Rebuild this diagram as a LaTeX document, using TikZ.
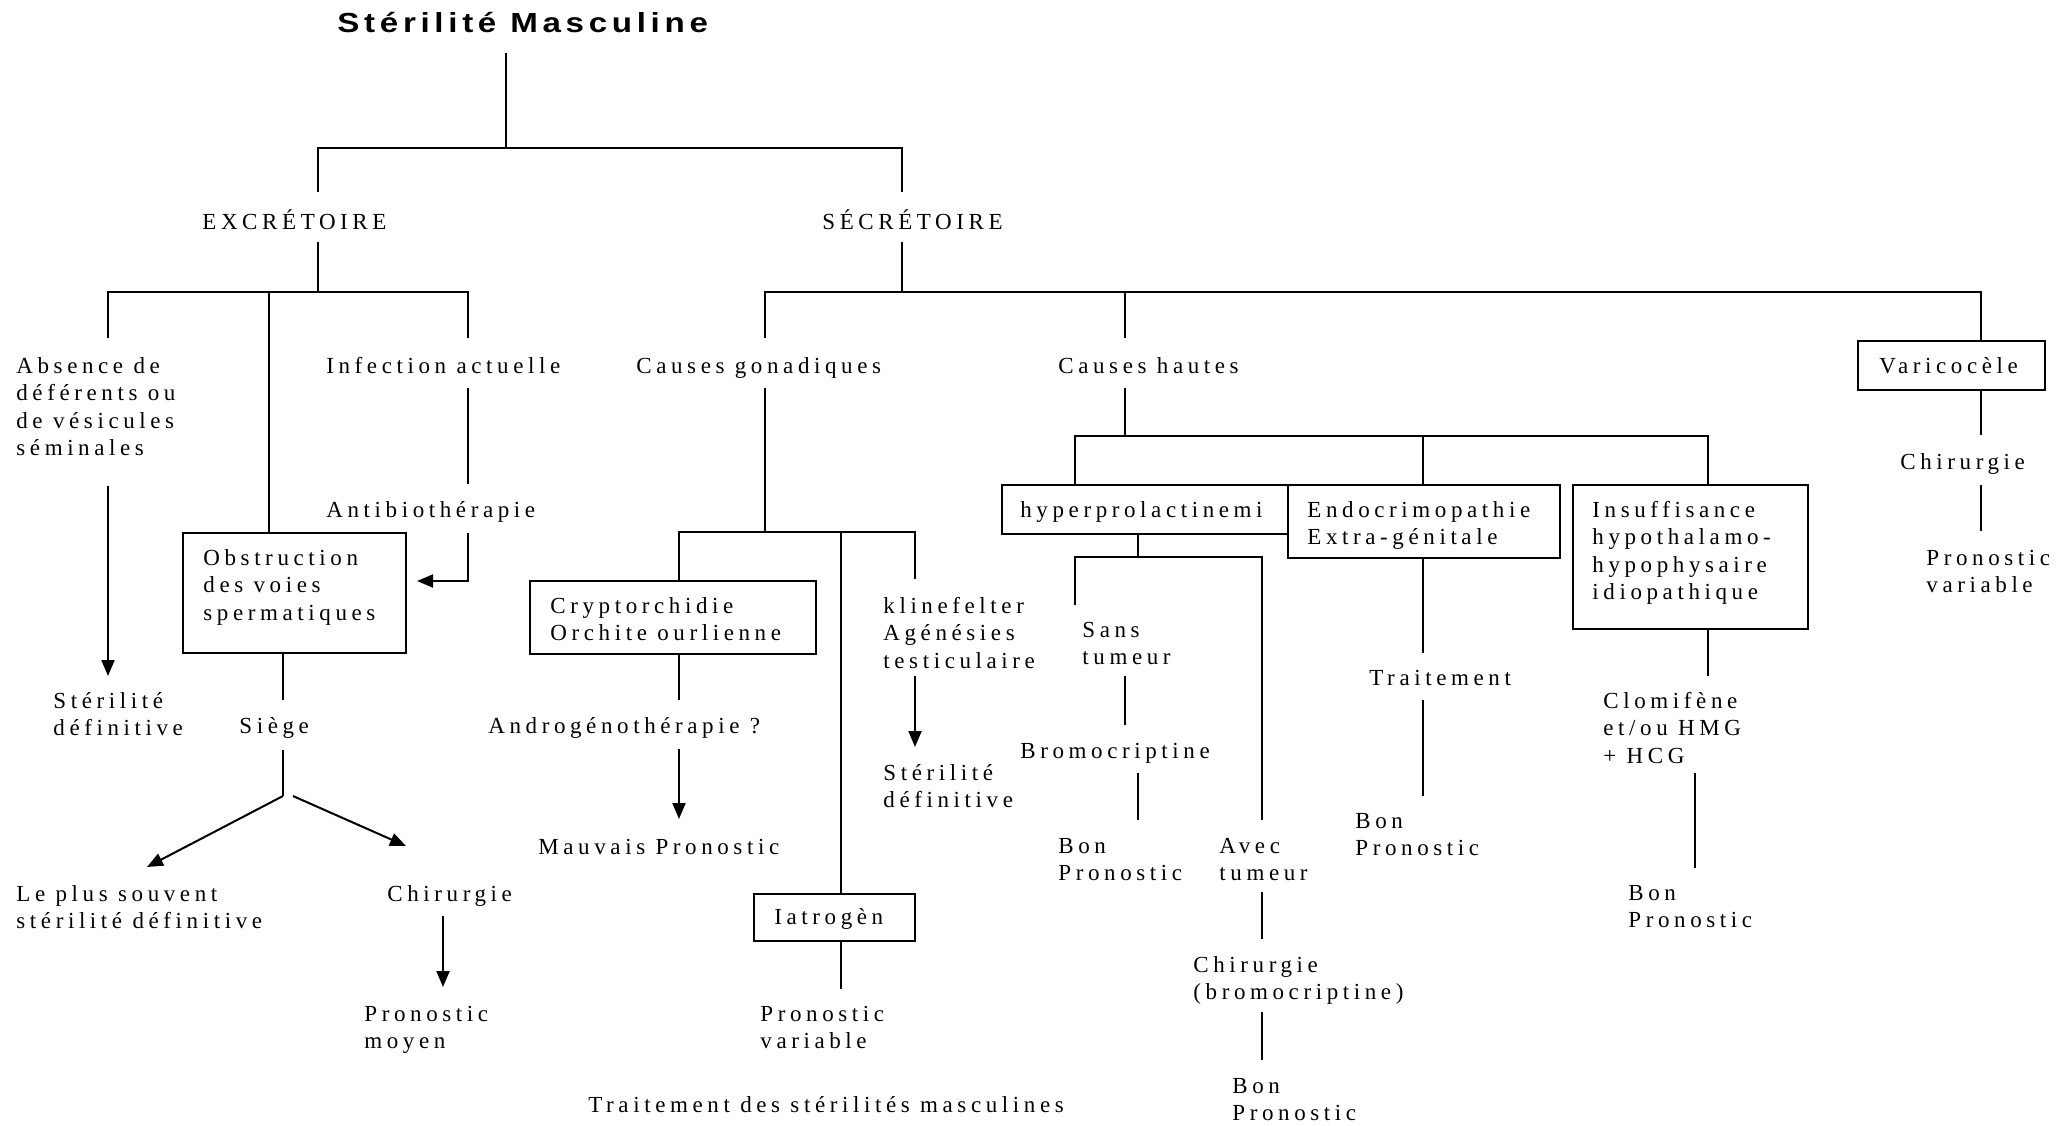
\documentclass[tikz,border=0pt]{standalone}
\usepackage{fontspec}
\usetikzlibrary{arrows.meta}
\newfontfamily\bodyfam[LetterSpace=20]{Liberation Serif}
\newfontfamily\titlefam[LetterSpace=17,FakeStretch=1.2]{Liberation Sans}
\newcommand\bodyfont{\fontsize{11.5}{13.75}\selectfont\bodyfam}
\newcommand\mltext[1]{\begin{tabular}[t]{@{}l@{}}#1\end{tabular}}

\begin{document}
\begin{tikzpicture}[x=0.5pt,y=-0.5pt,
  txt/.style={inner sep=0pt,anchor=base west,font=\bodyfont},
  box/.style={draw,line width=1pt,inner sep=0pt,anchor=north west,fill=white},
  ln/.style={line width=1pt},
  arr/.style={line width=1pt,-{Triangle[length=8pt,width=6.5pt]}}]
\useasboundingbox[fill=white] (0,0) rectangle (2071,1125);

% ---------- title and first split ----------
\node[inner sep=0pt,anchor=base west,font=\fontsize{13.8}{16}\selectfont\titlefam\bfseries] (title) at (337,32) {Stérilité Masculine};
\node[txt] (excr) at (202,229) {EXCRÉTOIRE};
\node[txt] (secr) at (822,229) {SÉCRÉTOIRE};

% ---------- excretory branch ----------
\node[txt] (absence) at (16,373) {\mltext{Absence de\\déférents ou\\de vésicules\\séminales}};
\node[txt] (infect) at (326,373) {Infection actuelle};
\node[txt] (antibio) at (326,517) {Antibiothérapie};
\node[box,minimum width=111.5pt,minimum height=60pt] (obsbox) at (182,532) {};
\node[txt] (obs) at (203,565) {\mltext{Obstruction\\des voies\\spermatiques}};
\node[txt] (sterdefa) at (53,708) {\mltext{Stérilité\\définitive}};
\node[txt] (siege) at (239,733) {Siège};
\node[txt] (plus) at (16,901) {\mltext{Le plus souvent\\stérilité définitive}};
\node[txt] (chira) at (387,901) {Chirurgie};
\node[txt] (pmoyen) at (364,1021) {\mltext{Pronostic\\moyen}};

% ---------- gonadal causes ----------
\node[txt] (gonad) at (636,373) {Causes gonadiques};
\node[box,minimum width=143pt,minimum height=36.5pt] (cryptbox) at (529,580) {};
\node[txt] (crypt) at (550,613) {\mltext{Cryptorchidie\\Orchite ourlienne}};
\node[txt] (kline) at (883,613) {\mltext{klinefelter\\Agénésies\\testiculaire}};
\node[txt] (sterdefb) at (883,780) {\mltext{Stérilité\\définitive}};
\node[txt] (andro) at (488,733) {Androgénothérapie ?};
\node[txt] (mauvais) at (538,854) {Mauvais Pronostic};
\node[box,minimum width=80.5pt,minimum height=23.5pt] (iatbox) at (753,893) {};
\node[txt] (iat) at (774,924) {Iatrogèn};
\node[txt] (pvara) at (760,1021) {\mltext{Pronostic\\variable}};
\node[txt] (caption) at (588,1112) {Traitement des stérilités masculines};

% ---------- central causes ----------
\node[txt] (hautes) at (1058,373) {Causes hautes};
\node[box,minimum width=149.5pt,minimum height=24.5pt] (hyperbox) at (1001,484) {};
\node[txt] (hyper) at (1020,517) {hyperprolactinemi};
\node[box,minimum width=136pt,minimum height=36.5pt] (endobox) at (1287,484) {};
\node[txt] (endo) at (1307,517) {\mltext{Endocrimopathie\\Extra-génitale}};
\node[box,minimum width=117.5pt,minimum height=72pt] (insbox) at (1572,484) {};
\node[txt] (ins) at (1592,517) {\mltext{Insuffisance\\hypothalamo-\\hypophysaire\\idiopathique}};
\node[txt] (sans) at (1082,637) {\mltext{Sans\\tumeur}};
\node[txt] (bromo) at (1020,758) {Bromocriptine};
\node[txt] (bona) at (1058,853) {\mltext{Bon\\Pronostic}};
\node[txt] (avec) at (1219,853) {\mltext{Avec\\tumeur}};
\node[txt] (chirbro) at (1193,972) {\mltext{Chirurgie\\(bromocriptine)}};
\node[txt] (bonb) at (1232,1093) {\mltext{Bon\\Pronostic}};
\node[txt] (trait) at (1369,685) {Traitement};
\node[txt] (bonc) at (1355,828) {\mltext{Bon\\Pronostic}};
\node[txt] (clomi) at (1603,708) {\mltext{Clomifène\\et/ou HMG\\+ HCG}};
\node[txt] (bond) at (1628,900) {\mltext{Bon\\Pronostic}};

% ---------- varicocele ----------
\node[box,minimum width=93.5pt,minimum height=24.5pt] (varibox) at (1857,340) {};
\node[txt] (vari) at (1879,373) {Varicocèle};
\node[txt] (chirb) at (1900,469) {Chirurgie};
\node[txt] (pvarb) at (1926,565) {\mltext{Pronostic\\variable}};

% ---------- junction points ----------
\coordinate (rootA) at (506,53);
\coordinate (rootB) at (506,148);
\coordinate (exTop) at (318,192);
\coordinate (seTop) at (902,148);
\coordinate (seTopB) at (902,192);
\coordinate (exA) at (318,242);
\coordinate (exB) at (318,292);
\coordinate (abA) at (108,338);
\coordinate (obA) at (269,292);
\coordinate (inA) at (468,292);
\coordinate (inB) at (468,338);
\coordinate (inC) at (468,388);
\coordinate (inD) at (468,484);
\coordinate (anA) at (468,533);
\coordinate (anB) at (417,581);
\coordinate (abB) at (108,486);
\coordinate (abC) at (108,676);
\coordinate (siA) at (283,700);
\coordinate (siB) at (283,750);
\coordinate (siC) at (283,796);
\coordinate (siD) at (293,796);
\coordinate (plA) at (147,867);
\coordinate (chA) at (406,846);
\coordinate (chB) at (443,916);
\coordinate (chC) at (443,987);
\coordinate (seA) at (902,242);
\coordinate (seB) at (902,292);
\coordinate (goA) at (765,338);
\coordinate (vaA) at (1981,292);
\coordinate (haA) at (1125,292);
\coordinate (haB) at (1125,338);
\coordinate (goB) at (765,388);
\coordinate (goC) at (765,532);
\coordinate (crA) at (679,532);
\coordinate (klA) at (915,532);
\coordinate (klB) at (915,579);
\coordinate (iaA) at (841,532);
\coordinate (crB) at (679,700);
\coordinate (crC) at (679,749);
\coordinate (crD) at (679,819);
\coordinate (klC) at (915,676);
\coordinate (klD) at (915,747);
\coordinate (iaB) at (841,989);
\coordinate (haC) at (1125,388);
\coordinate (haD) at (1125,436);
\coordinate (hyA) at (1075,436);
\coordinate (isA) at (1708,436);
\coordinate (enA) at (1423,436);
\coordinate (hyB) at (1138,557);
\coordinate (saA) at (1075,605);
\coordinate (avA) at (1262,557);
\coordinate (avB) at (1262,820);
\coordinate (saB) at (1125,676);
\coordinate (saC) at (1125,725);
\coordinate (brA) at (1138,773);
\coordinate (brB) at (1138,820);
\coordinate (avC) at (1262,892);
\coordinate (avD) at (1262,939);
\coordinate (cbA) at (1262,1012);
\coordinate (cbB) at (1262,1060);
\coordinate (enB) at (1423,653);
\coordinate (trA) at (1423,700);
\coordinate (trB) at (1423,796);
\coordinate (isB) at (1708,676);
\coordinate (clA) at (1695,773);
\coordinate (clB) at (1695,868);
\coordinate (vaB) at (1981,435);
\coordinate (vaC) at (1981,485);
\coordinate (vaD) at (1981,531);

% ---------- connectors ----------
\draw[ln] (rootA) -- (rootB);
\draw[ln] (exTop) |- (seTop) -- (seTopB);
\draw[ln] (exA) -- (exB);
\draw[ln] (abA) |- (inA) -- (inB);
\draw[ln] (obA) -- (obA |- obsbox.north);
\draw[ln] (inC) -- (inD);
\draw[arr] (anA) |- (anB);
\draw[arr] (abB) -- (abC);
\draw[ln] (siA |- obsbox.south) -- (siA);
\draw[ln] (siB) -- (siC);
\draw[arr] (siC) -- (plA);
\draw[arr] (siD) -- (chA);
\draw[arr] (chB) -- (chC);

\draw[ln] (seA) -- (seB);
\draw[ln] (goA) |- (vaA) -- (vaA |- varibox.north);
\draw[ln] (haA) -- (haB);
\draw[ln] (goB) -- (goC);
\draw[ln] (crA |- cryptbox.north) |- (klA) -- (klB);
\draw[ln] (iaA) -- (iaA |- iatbox.north);
\draw[ln] (crA |- cryptbox.south) -- (crB);
\draw[arr] (crC) -- (crD);
\draw[arr] (klC) -- (klD);
\draw[ln] (iaA |- iatbox.south) -- (iaB);

\draw[ln] (haC) -- (haD);
\draw[ln] (hyA |- hyperbox.north) |- (isA) -- (isA |- insbox.north);
\draw[ln] (enA) -- (enA |- endobox.north);
\draw[ln] (hyB |- hyperbox.south) -- (hyB);
\draw[ln] (saA) |- (avA) -- (avB);
\draw[ln] (saB) -- (saC);
\draw[ln] (brA) -- (brB);
\draw[ln] (avC) -- (avD);
\draw[ln] (cbA) -- (cbB);
\draw[ln] (enA |- endobox.south) -- (enB);
\draw[ln] (trA) -- (trB);
\draw[ln] (isA |- insbox.south) -- (isB);
\draw[ln] (clA) -- (clB);
\draw[ln] (vaA |- varibox.south) -- (vaB);
\draw[ln] (vaC) -- (vaD);
\end{tikzpicture}
\end{document}
